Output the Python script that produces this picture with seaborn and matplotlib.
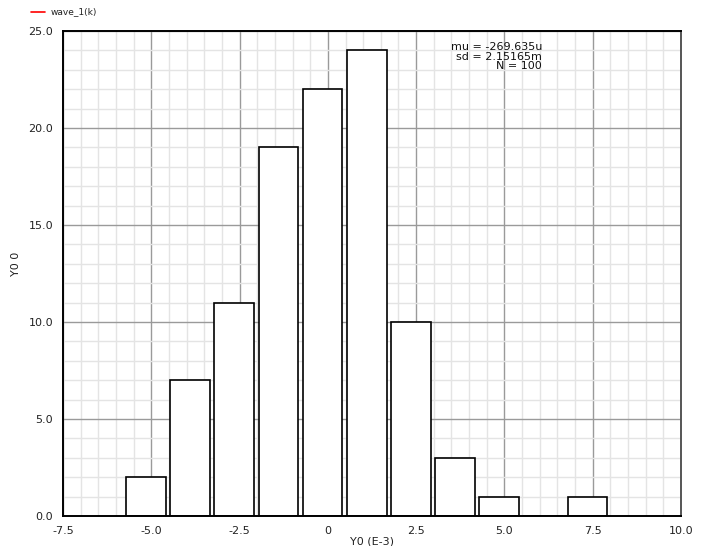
import matplotlib
matplotlib.use("Agg")
import matplotlib.pyplot as plt
from matplotlib.lines import Line2D
from matplotlib.ticker import MultipleLocator, FixedLocator, FixedFormatter
import numpy as np
import seaborn as sns

# Histogram of Y0 (in units of 1e-3), 11 bins of width 1.25
bin_edges = [-5.775, -4.525, -3.275, -2.025, -0.775, 0.475,
             1.725, 2.975, 4.225, 5.475, 6.725, 7.975]
bin_centers = [-5.15, -3.9, -2.65, -1.4, -0.15, 1.1,
               2.35, 3.6, 4.85, 6.1, 7.35]
counts = [2, 7, 11, 19, 22, 24, 10, 3, 1, 0, 1]

x_ticks = [-7.5, -5.0, -2.5, 0.0, 2.5, 5.0, 7.5, 10.0]
x_tick_labels = ["-7.5", "-5.0", "-2.5", "0", "2.5", "5.0", "7.5", "10.0"]
y_ticks = [0, 5, 10, 15, 20, 25]
y_tick_labels = ["0.0", "5.0", "10.0", "15.0", "20.0", "25.0"]

stats_lines = ["mu = -269.635u", "sd = 2.15165m", "N = 100"]
legend_label = "wave_1(k)"

sns.set_style("white")
plt.rcParams["font.family"] = ["DejaVu Sans"]

fig = plt.figure(figsize=(7.11, 5.46), dpi=100)
ax = fig.add_axes([63 / 711, 30 / 546, 618 / 711, 485 / 546])

ax.set_xlim(-7.5, 10.0)
ax.set_ylim(0, 25)

# grid: light minor lines, darker major lines, drawn below the bars
ax.xaxis.set_major_locator(FixedLocator(x_ticks))
ax.xaxis.set_major_formatter(FixedFormatter(x_tick_labels))
ax.yaxis.set_major_locator(FixedLocator(y_ticks))
ax.yaxis.set_major_formatter(FixedFormatter(y_tick_labels))
ax.xaxis.set_minor_locator(MultipleLocator(0.5))
ax.yaxis.set_minor_locator(MultipleLocator(1.0))
ax.set_axisbelow(True)
ax.grid(which="minor", color="#e4e4e4", linewidth=1.0)
ax.grid(which="major", color="#9a9a9a", linewidth=1.0)

sns.histplot(x=bin_centers, weights=counts, bins=bin_edges, shrink=0.9,
             color="white", edgecolor="black", linewidth=1.2, alpha=1.0,
             ax=ax, legend=False)

ax.set_xlim(-7.5, 10.0)
ax.set_ylim(0, 25)

for side in ["left", "bottom", "top"]:
    ax.spines[side].set_color("black")
    ax.spines[side].set_linewidth(1.4)
ax.spines["right"].set_color("#555555")
ax.spines["right"].set_linewidth(1.4)

ax.tick_params(which="major", direction="out", length=5, width=1.2,
               color="black", labelsize=8, pad=2, labelcolor="#222222")
ax.tick_params(which="minor", direction="out", length=3, width=1.0,
               color="black")
ax.tick_params(top=False, right=False, which="both")

ax.set_xlabel("Y0 (E-3)", fontsize=8, color="#222222")
ax.set_ylabel("Y0 0", fontsize=8, color="#222222")
ax.xaxis.set_label_coords(0.5, -0.042)
ax.xaxis.label.set_va("top")
ax.yaxis.set_label_coords(-0.068, 0.52)

# summary statistics
ax.text(0.775, 0.977, "\n".join(stats_lines), transform=ax.transAxes,
        ha="right", va="top", fontsize=8, linespacing=0.92,
        color="#111111")

# series legend above the plot
fig.add_artist(Line2D([31 / 711, 45 / 711], [1 - 12 / 546, 1 - 12 / 546],
                      color="red", linewidth=1.2))
fig.text(51 / 711, 1 - 12 / 546, legend_label, fontsize=6.5,
         va="center", ha="left", color="#222222")

fig.savefig("out.png", dpi=100)
